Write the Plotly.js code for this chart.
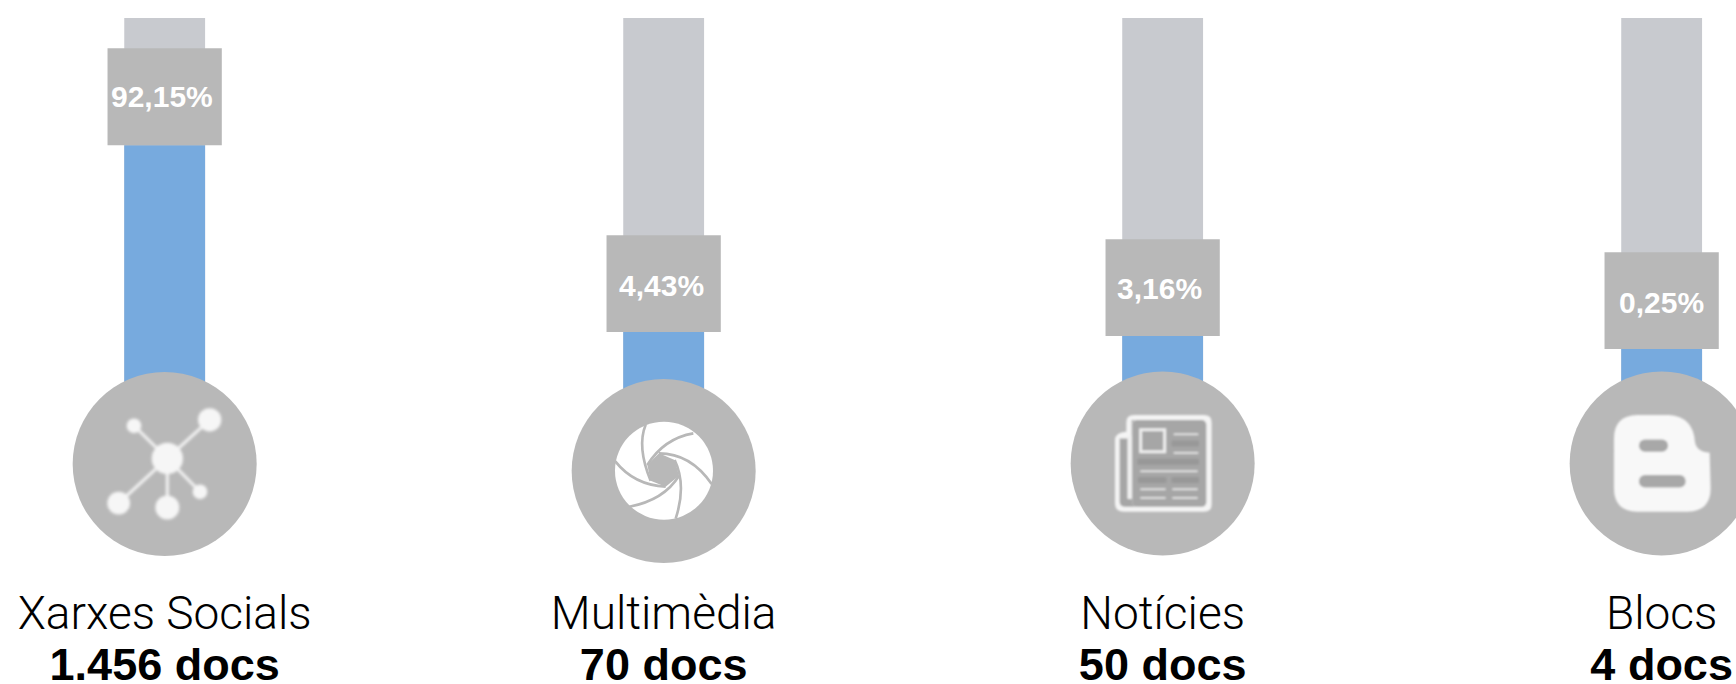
<!DOCTYPE html>
<html>
<head>
<meta charset="utf-8">
<script src="https://cdn.plot.ly/plotly-3.0.1.min.js"></script>
<style>html,body{margin:0;padding:0;background:#fff;overflow:hidden}</style>
</head>
<body>
<div id="chart" style="width:1736px;height:684px"></div>
<script>
const categories = ['Xarxes Socials', 'Multimèdia', 'Notícies', 'Blocs'];
const docs = ['1.456 docs', '70 docs', '50 docs', '4 docs'];
const shares = ['92,15%', '4,43%', '3,16%', '0,25%'];
const trackLevels = [100, 100, 100, 100];
const fillLevels = [71.5, 29.6, 28.7, 25.8];
const boxHeights = [21.7, 21.7, 21.7, 21.7];
const medallionLevels = [0, -1.57, 0.1, 0.1];
const labelShiftX = [-3, -2, -3, 0];
const labelShiftY = [0, -2, -1, -2];

const idx = [0, 1, 2, 3];
const UNIT_X = 499, UNIT_Y = 4.46;

const tickText = categories.map((c, i) =>
  '<span style="font-size:46px">' + c + '</span><br>' +
  '<span style="font-family:\'Liberation Sans\';font-weight:bold;font-size:45px">' + docs[i] + '</span>');

// Icons: decorative glyphs inside the medallions
const GRAY = '#b8b8b8';
function svg(size, body, blur) {
  const f = blur ? '<defs><filter id="b" x="-5%" y="-5%" width="110%" height="110%"><feGaussianBlur stdDeviation="' + blur + '"/></filter></defs>' : '';
  return 'data:image/svg+xml;charset=utf-8,' + encodeURIComponent(
    '<svg xmlns="http://www.w3.org/2000/svg" width="' + size*4 + '" height="' + size*4 + '" viewBox="0 0 ' + size + ' ' + size + '">' + f +
    '<g' + (blur ? ' filter="url(#b)"' : '') + '>' + body + '</g></svg>');
}
const networkIcon = svg(420,
  '<g stroke="#f4f4f4" stroke-width="9" fill="none">' +
  '<path d="M218 188L118 90M218 188L345 72M218 188L72 322M218 188L218 335M218 188L316 288"/></g>' +
  '<g fill="#f6f6f6"><circle cx="218" cy="188" r="47"/><circle cx="118" cy="90" r="22"/><circle cx="345" cy="72" r="35"/>' +
  '<circle cx="72" cy="322" r="34"/><circle cx="218" cy="335" r="36"/><circle cx="316" cy="288" r="22"/></g>', 4);
const shutterIcon = svg(375,
  '<circle cx="190" cy="182" r="147" fill="#fff"/>' +
  '<g stroke="' + GRAY + '" stroke-width="8" fill="none">' +
  '<path d="M150 212Q108 110 135 44"/><path d="M140 165Q190 85 278 70"/><path d="M175 130Q270 130 333 222"/>' +
  '<path d="M222 150Q258 225 225 326"/><path d="M235 197Q190 270 86 290"/><path d="M195 230Q100 225 44 154"/></g>' +
  '<path d="M150 212L140 165L175 130L222 150L235 197L195 230Z" fill="' + GRAY + '"/>', 0);
const newsIcon = svg(345,
  '<path d="M85 30H295Q318 30 318 52V298Q318 320 295 320H55Q28 320 28 295V105Q28 82 62 80V52Q62 30 85 30Z" fill="#f4f4f4"/>' +
  '<path d="M42 100H66V280H78V45H92Q80 45 80 58V290Q80 305 95 305H60Q42 305 42 290Z" fill="#a6a6a6"/>' +
  '<rect x="80" y="45" width="222" height="260" rx="14" fill="#a6a6a6"/>' +
  '<rect x="66" y="92" width="12" height="190" fill="#f0f0f0"/>' +
  '<rect x="105" y="74" width="72" height="66" fill="#a6a6a6" stroke="#eee" stroke-width="9"/>' +
  '<g fill="#989898"><rect x="198" y="106" width="82" height="18" rx="4"/><rect x="95" y="161" width="185" height="18" rx="4"/>' +
  '<rect x="97" y="216" width="85" height="18" rx="4"/><rect x="198" y="216" width="82" height="18" rx="4"/></g>' +
  '<g fill="#e8e8e8"><rect x="204" y="85" width="74" height="5"/><rect x="204" y="141" width="74" height="5"/>' +
  '<rect x="104" y="196" width="172" height="5"/><rect x="104" y="250" width="76" height="5"/><rect x="200" y="250" width="76" height="5"/>' +
  '<rect x="104" y="276" width="76" height="5"/><rect x="200" y="276" width="76" height="5"/></g>', 3);
const blogIcon = svg(345,
  '<path d="M95 30L190 30Q262 35 268 110Q272 140 312 143L315 250Q315 318 245 320L95 320Q25 318 25 250L25 100Q25 32 95 30Z" fill="#f8f8f8"/>' +
  '<g fill="#a8a8a8"><rect x="100" y="103" width="87" height="37" rx="18"/><rect x="100" y="210" width="140" height="37" rx="18"/></g>', 3);

const iconSources = [networkIcon, shutterIcon, newsIcon, blogIcon];
const iconOffsetX = [0, -0.001, 0.001, 0.003];
const iconOffsetY = [-0.4, -0.34, 0.22, 0.22];
const iconSizes = [140, 125, 115, 115];

const traces = [
  {type:'bar', x:idx, y:trackLevels, width:0.162, marker:{color:'#c8cacf'}, hoverinfo:'skip'},
  {type:'bar', x:idx, y:fillLevels, width:0.162, marker:{color:'#77aade'}, hoverinfo:'skip'},
  {type:'bar', x:idx, y:boxHeights, base:fillLevels, width:0.229, marker:{color:GRAY}, hoverinfo:'skip'},
  {type:'scatter', mode:'markers', x:idx, y:medallionLevels,
   marker:{size:184, color:GRAY, line:{width:0}}, hoverinfo:'skip'}
];
const layout = {
  width:1736, height:684, showlegend:false, barmode:'overlay',
  margin:{l:0, r:0, t:0, b:108},
  paper_bgcolor:'#fff', plot_bgcolor:'#fff',
  xaxis:{range:[-0.330, 3.149], tickmode:'array', tickvals:idx, ticktext:tickText, tickangle:0,
         showgrid:false, zeroline:false, showline:false, ticks:'outside', ticklen:5, tickcolor:'rgba(0,0,0,0)',
         tickfont:{family:'Roboto', size:39, color:'#000', weight:300}},
  yaxis:{range:[-25.11, 104.04], visible:false, showgrid:false, zeroline:false},
  annotations: idx.map(i => ({
    x:i, y:fillLevels[i] + boxHeights[i]/2, xref:'x', yref:'y', text:shares[i], showarrow:false,
    xanchor:'center', yanchor:'middle', xshift:labelShiftX[i], yshift:labelShiftY[i],
    font:{family:'Liberation Sans', size:30, color:'#fff', weight:'bold'}
  })),
  images: idx.map(i => ({
    source:iconSources[i], xref:'x', yref:'y',
    x:i + iconOffsetX[i], y:medallionLevels[i] + iconOffsetY[i],
    sizex:iconSizes[i]/UNIT_X, sizey:iconSizes[i]/UNIT_Y,
    xanchor:'center', yanchor:'middle', sizing:'stretch', layer:'above'
  }))
};
Plotly.newPlot('chart', traces, layout, {displayModeBar:false, staticPlot:true});
</script>
</body>
</html>
